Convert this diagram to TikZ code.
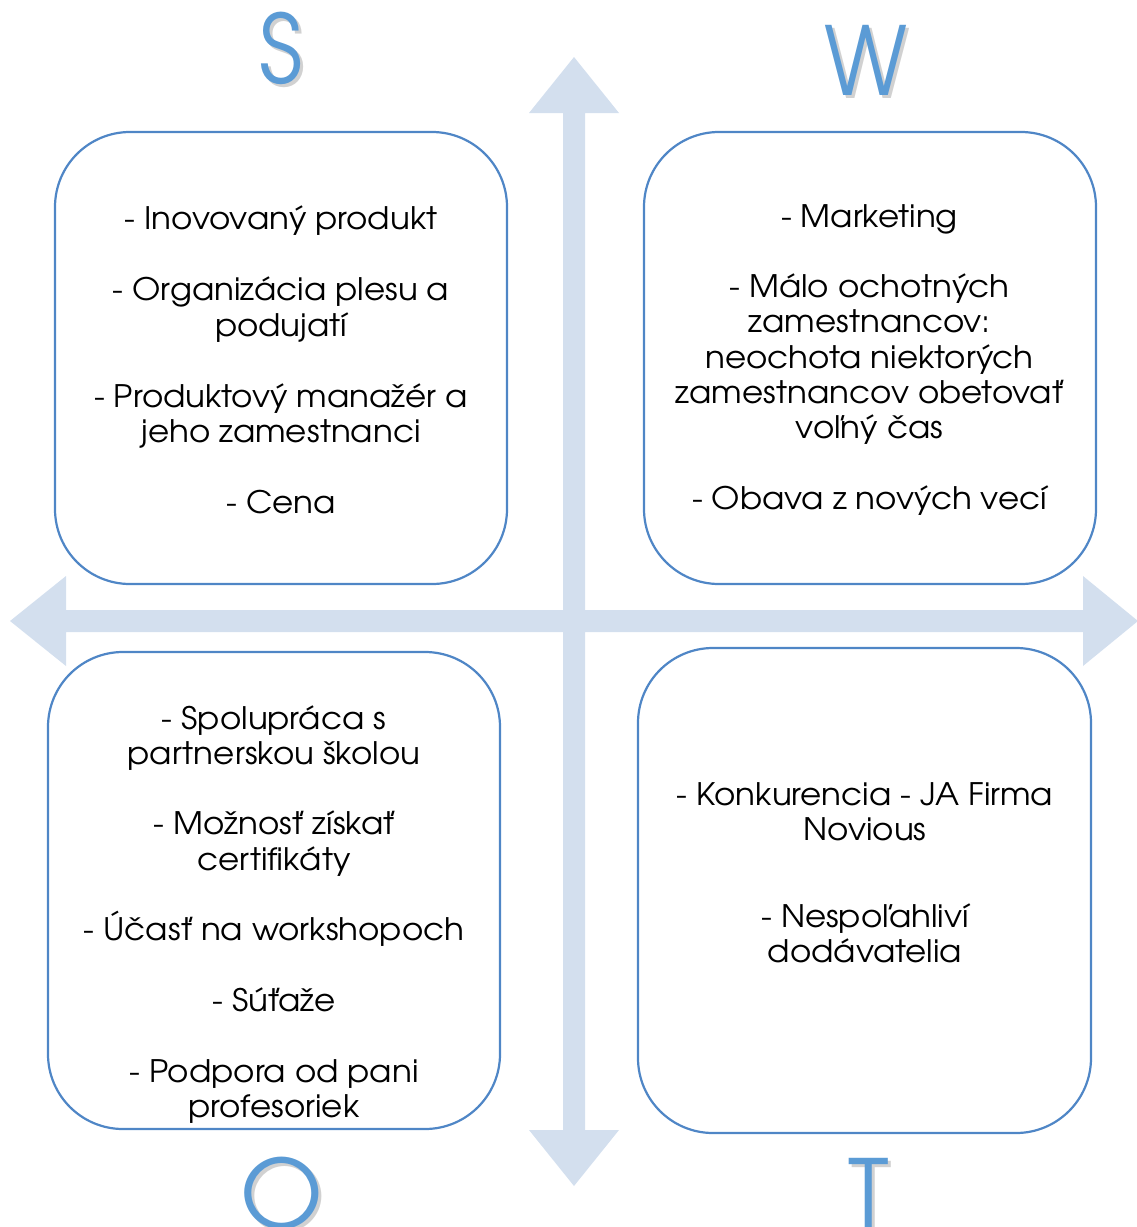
\documentclass[tikz,border=0pt]{standalone}
\usepackage{fontspec}
\setmainfont{texgyreadventor-regular.otf}
\newfontfamily\itemfont[FakeStretch=1.05]{texgyreadventor-regular.otf}
\newfontfamily\narrowletter[FakeStretch=0.91]{texgyreadventor-regular.otf}
\definecolor{arrowfill}{HTML}{D3DFEE}
\definecolor{boxline}{HTML}{4F86C6}
\definecolor{letterblue}{HTML}{5B9BD5}
\tikzset{
  quad/.style={draw=boxline, line width=2.2pt, rounded corners=75pt},
  itemtxt/.style={anchor=base, inner sep=0pt, font=\itemfont\fontsize{31}{35}\selectfont, text=black},
  bigletter/.style={anchor=base, inner sep=0pt, font=\fontsize{95}{100}\selectfont, text=letterblue},
  lettershadow/.style={anchor=base, inner sep=0pt, font=\fontsize{95}{100}\selectfont, text=black, text opacity=0.18},
}
\begin{document}
\begin{tikzpicture}[x=1pt,y=-1pt]
\useasboundingbox (0,0) rectangle (1136,1227);
% cross of arrows
\fill[arrowfill] (574,57) -- (619,113) -- (585,113) -- (585,610) -- (1083,610) -- (1083,576) -- (1138,621)
  -- (1083,666) -- (1083,632) -- (585,632) -- (585,1130) -- (619,1130) -- (574,1186) -- (529,1130)
  -- (563,1130) -- (563,632) -- (66,632) -- (66,666) -- (10,621) -- (66,576) -- (66,610) -- (563,610)
  -- (563,113) -- (529,113) -- cycle;
% boxes
\draw[quad] (55,132) rectangle (507,584);
\draw[quad] (644,132) rectangle (1096,584);
\draw[quad] (48,652) rectangle (500,1129);
\draw[quad] (638,648) rectangle (1091,1133);
% letters
\node[lettershadow, font=\narrowletter\fontsize{95}{100}\selectfont] (Ssh) at (284,86) {S};
\node[bigletter, font=\narrowletter\fontsize{95}{100}\selectfont] (S) at (281,83) {S};
\node[lettershadow, font=\narrowletter\fontsize{95}{100}\selectfont] (Wsh) at (869,98) {W};
\node[bigletter, font=\narrowletter\fontsize{95}{100}\selectfont] (W) at (866,95) {W};
\node[lettershadow] (Osh) at (285,1231) {O};
\node[bigletter] (O) at (282,1228) {O};
\node[lettershadow] (Tsh) at (872,1231) {T};
\node[bigletter] (T) at (869,1228) {T};
% S texts
\node[itemtxt] (s1) at (281,229.5) {- Inovovaný produkt};
\node[itemtxt] (s2) at (281,300.5) {- Organizácia plesu a};
\node[itemtxt] (s3) at (281,336) {podujatí};
\node[itemtxt] (s4) at (281,407) {- Produktový manažér a};
\node[itemtxt] (s5) at (281,442.5) {jeho zamestnanci};
\node[itemtxt] (s6) at (281,513.5) {- Cena};
% W texts
\node[itemtxt] (w1) at (869.5,227) {- Marketing};
\node[itemtxt] (w2) at (869.5,297.6) {- Málo ochotných};
\node[itemtxt] (w3) at (869.5,332.9) {zamestnancov:};
\node[itemtxt] (w4) at (869.5,368.2) {neochota niektorých};
\node[itemtxt] (w5) at (869.5,403.5) {zamestnancov obetovať};
\node[itemtxt] (w6) at (869.5,438.8) {voľný čas};
\node[itemtxt] (w7) at (869.5,509.4) {- Obava z nových vecí};
% O texts
\node[itemtxt] (o1) at (274,729) {- Spolupráca s};
\node[itemtxt] (o2) at (274,764.3) {partnerskou školou};
\node[itemtxt] (o3) at (274,834.9) {- Možnosť získať};
\node[itemtxt] (o4) at (274,870.2) {certifikáty};
\node[itemtxt] (o5) at (274,940.8) {- Účasť na workshopoch};
\node[itemtxt] (o6) at (274,1011.4) {- Súťaže};
\node[itemtxt] (o7) at (274,1082) {- Podpora od pani};
\node[itemtxt] (o8) at (274,1117.3) {profesoriek};
% T texts
\node[itemtxt] (t1) at (865,805) {- Konkurencia - JA Firma};
\node[itemtxt] (t2) at (865,840) {Novious};
\node[itemtxt] (t3) at (865,927) {- Nespoľahliví};
\node[itemtxt] (t4) at (865,962) {dodávatelia};
\end{tikzpicture}
\end{document}
